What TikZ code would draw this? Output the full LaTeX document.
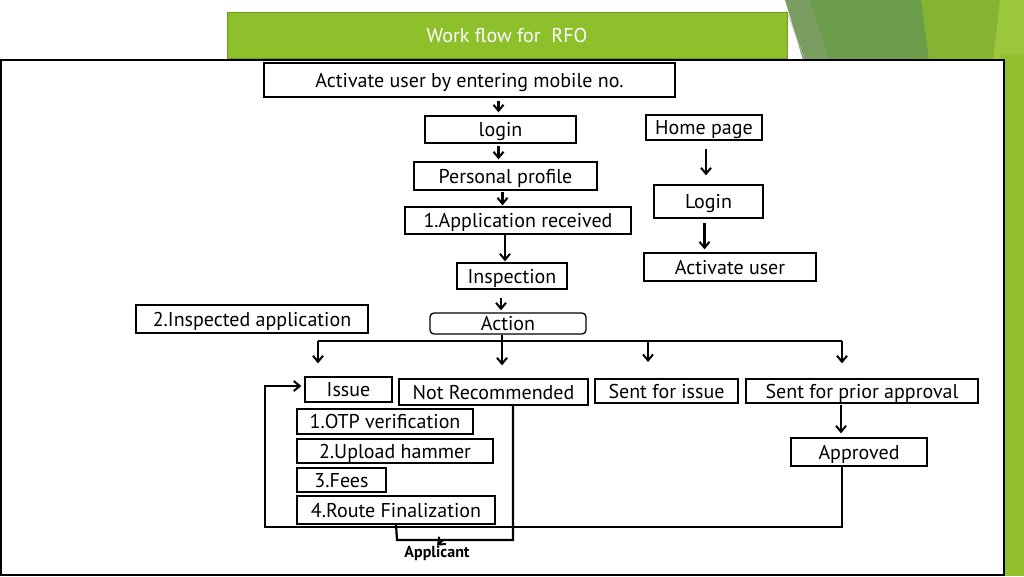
\documentclass[tikz,border=0pt]{standalone}
\usepackage{fontspec}
\setmainfont{PT Sans}
\usetikzlibrary{arrows.meta,calc}
\definecolor{titlegreen}{HTML}{8DC02A}
\definecolor{titleedge}{HTML}{6E9A22}
\definecolor{decoA}{HTML}{7A9E62}
\definecolor{decoB}{HTML}{6C9D4B}
\definecolor{decoC}{HTML}{84B431}
\definecolor{decoD}{HTML}{9CC63C}
\definecolor{stripgreen}{HTML}{93C02C}
\tikzset{
  bx/.style={draw=black, line width=1.3pt, fill=white, inner sep=0pt, text depth=0pt, font=\fontsize{20}{24}\selectfont, text=black},
  arr/.style={-{Straight Barb[length=6pt,width=10pt,line width=2pt]}, line width=2.2pt},
  ln/.style={line width=2.2pt},
}
\begin{document}
\begin{tikzpicture}[x=1pt,y=-1pt]
\useasboundingbox (0,0) rectangle (1024,576);
\fill[white] (0,0) rectangle (1024,576);
% decorative shapes top right
\fill[decoA] (785,0) -- (812,0) -- (832,60) -- (803,60) -- cycle;
\fill[decoB] (810,0) -- (922,0) -- (930,60) -- (830,60) -- cycle;
\fill[decoC] (921,0) -- (1002,0) -- (995,60) -- (929,60) -- cycle;
\fill[decoD] (1000,0) -- (1024,0) -- (1024,60) -- (993,60) -- cycle;
\fill[stripgreen] (1000,55) rectangle (1024,576);
\draw[gray!50, line width=0.5pt] (787,12) -- (805,60);
% title
\node[draw=titleedge, fill=titlegreen, line width=1pt, minimum width=560pt, minimum height=46pt, inner sep=0pt, text depth=0pt, text=white, font=\fontsize{20}{24}\selectfont] (title) at (507,35) {Work flow for\ \ RFO};
% main frame
\draw[fill=white, line width=1.5pt] (1,60) rectangle (1004,575);
% nodes
\node[bx, minimum width=411pt, minimum height=34pt] (act) at (469.5,80) {Activate user by entering mobile no.};
\node[bx, minimum width=151pt, minimum height=27pt] (login) at (500.5,129.5) {login};
\node[bx, minimum width=183pt, minimum height=28pt] (prof) at (505.5,176) {Personal profile};
\node[bx, minimum width=226pt, minimum height=27pt] (app) at (518,220.5) {1.Application received};
\node[bx, minimum width=110pt, minimum height=26pt] (insp) at (512,276) {Inspection};
\node[bx, rounded corners=4pt, minimum width=156pt, minimum height=21pt] (action) at (508,323.5) {Action};
\node[bx, minimum width=232pt, minimum height=28pt] (inspapp) at (252,319) {2.Inspected application};
\node[bx, minimum width=116pt, minimum height=25pt] (home) at (704,127.5) {Home page};
\node[bx, minimum width=109pt, minimum height=33pt] (login2) at (708.5,201.5) {Login};
\node[bx, minimum width=172pt, minimum height=28pt] (actuser) at (730,267) {Activate user};
\node[bx, minimum width=87pt, minimum height=25pt] (issue) at (348.5,389.5) {Issue};
\node[bx, minimum width=189pt, minimum height=26pt] (notrec) at (493.5,392) {Not Recommended};
\node[bx, minimum width=143pt, minimum height=24pt] (sfi) at (666.5,391) {Sent for issue};
\node[bx, minimum width=232pt, minimum height=24pt] (sfpa) at (862,391) {Sent for prior approval};
\node[bx, minimum width=176pt, minimum height=25pt] (otp) at (385,421.5) {1.OTP verification};
\node[bx, minimum width=196pt, minimum height=24pt] (upl) at (395,451) {2.Upload hammer};
\node[bx, minimum width=89pt, minimum height=24pt] (fees) at (341.5,480) {3.Fees};
\node[bx, minimum width=198pt, minimum height=28pt] (route) at (396,510) {4.Route Finalization};
\node[bx, minimum width=136pt, minimum height=28pt] (appr) at (859,452) {Approved};
\node[inner sep=0pt, font=\fontsize{16}{18}\selectfont\bfseries] (applicant) at (437,553) {Applicant};
% vertical arrows of the left column
\draw[arr, shorten <=3pt, shorten >=3pt] ([xshift=-2pt]login.north |- act.south) -- ([xshift=-2pt]login.north);
\draw[arr, shorten <=2pt, shorten >=2pt] ([xshift=-2pt]login.south) -- ([xshift=-2pt]login.south |- prof.north);
\draw[arr, shorten <=1pt, shorten >=1pt] ([xshift=-3pt]prof.south) -- ([xshift=-3pt]prof.south |- app.north);
\draw[arr, shorten >=1pt] ([xshift=-7pt]insp.north |- app.south) -- ([xshift=-7pt]insp.north);
\draw[arr, shorten <=8pt, shorten >=2pt] ([xshift=-7pt]action.north |- insp.south) -- ([xshift=-7pt]action.north);
% right column
\draw[arr, shorten <=8pt, shorten >=9pt] ([xshift=2pt]home.south) -- ([xshift=2pt]home.south |- login2.north);
\draw[arr, shorten <=4pt, shorten >=3pt] ([xshift=-4pt]login2.south) -- ([xshift=-4pt]login2.south |- actuser.north);
% branching from Action
\coordinate (bl) at (318,341);
\coordinate (br) at (842,341);
\draw[ln] (bl) -- (br);
\draw[arr, shorten >=13pt] ([xshift=-6pt]action.south) -- ([xshift=-6pt]action.south |- notrec.north);
\draw[arr, shorten >=13pt] (bl) -- (bl |- issue.north);
\draw[arr, shorten >=17pt] (648,341) -- (648,379);
\draw[arr, shorten >=15pt] (br) -- (br |- sfpa.north);
% prior approval to approved
\draw[arr, shorten <=1pt, shorten >=4pt] ([xshift=-21pt]sfpa.south) -- ([xshift=-21pt]sfpa.south |- appr.north);
% loop from Approved back to Issue
\coordinate (lb) at (265,527);
\draw[arr, line cap=round] ([xshift=-17pt]appr.south) -- ([xshift=-17pt]appr.south |- lb) -- (lb) -- (lb |- 0,386) -- ([xshift=-3pt]issue.west |- 0,386);
% Not Recommended to Applicant
\coordinate (nb) at (513,540);
\draw[ln] ([xshift=19.5pt]notrec.south) -- (nb) -- (397,540) -- (route.south);
\draw[arr] (443,540) -- (applicant.north);
\end{tikzpicture}
\end{document}
